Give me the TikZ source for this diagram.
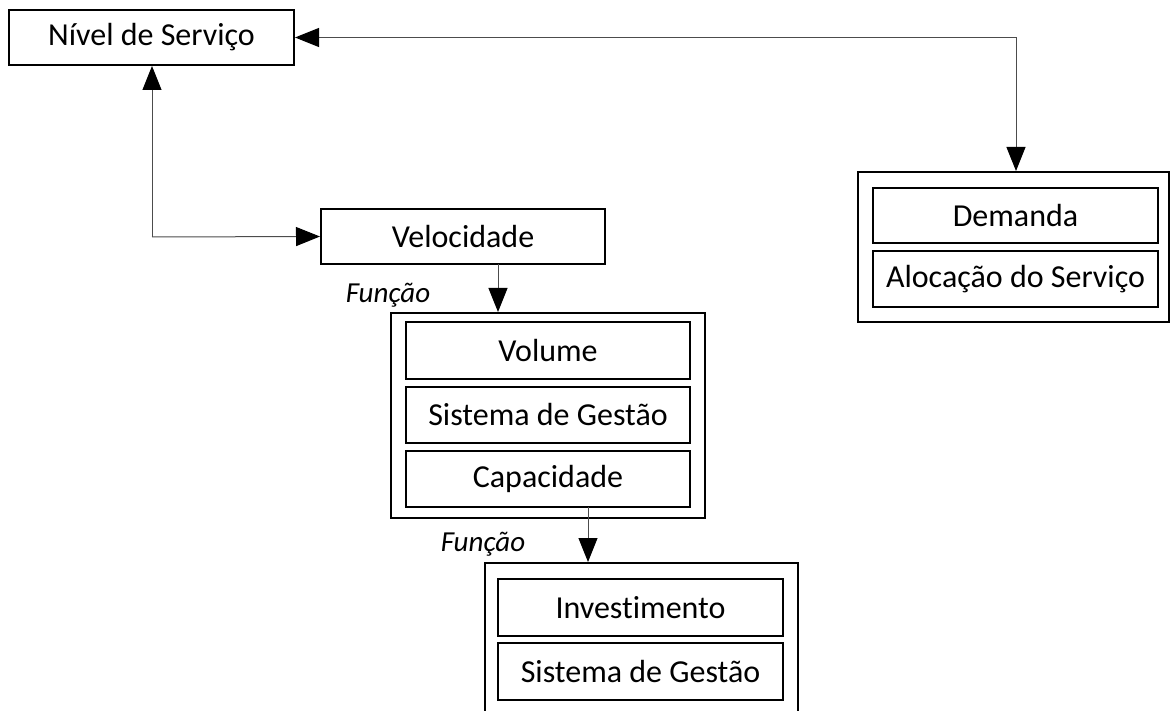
\documentclass[tikz,border=0pt]{standalone}
\usepackage{fontspec}
\setmainfont{Carlito}[Ligatures=NoCommon]
\usetikzlibrary{arrows.meta,calc}
\begin{document}
\begin{tikzpicture}[x=1pt,y=-1pt,
  box/.style={draw=black,line width=2pt,minimum width=#1,inner sep=0pt,font=\fontsize{32}{38}\selectfont},
  conn/.style={draw=black!70,line width=1pt},
  tip/.style={-{Triangle[length=24pt,width=19pt,color=black]}},
  lbl/.style={font=\fontsize{29}{35}\selectfont\itshape,inner sep=0pt}]
\useasboundingbox (0,0) rectangle (1171,711);
% top-left
\node[box=285pt,minimum height=55pt] (niv) at (151.5,37.5) {Nível de Serviço};
\node[box=284pt,minimum height=55pt] (vel) at (463,236.5) {Velocidade};
% middle group
\node[box=314pt,minimum height=205pt] (mid) at (548,415.5) {};
\node[box=284pt,minimum height=57pt] (vol) at (548,350.5) {Volume};
\node[box=284pt,minimum height=56pt] (sg1) at (548,415) {Sistema de Gestão};
\node[box=284pt,minimum height=56pt] (cap) at (548,479) {Capacidade};
% right group
\node[box=311pt,minimum height=150pt] (dem) at (1013.5,247) {};
\node[box=285pt,minimum height=55pt] (dmd) at (1015.5,215.5) {Demanda};
\node[box=285pt,minimum height=56pt] (alo) at (1015.5,279) {Alocação do Serviço};
% bottom group
\node[box=313pt,minimum height=155pt] (bot) at (641.5,640.5) {};
\node[box=285pt,minimum height=57pt] (inv) at (640.5,607.5) {Investimento};
\node[box=285pt,minimum height=57pt] (sg2) at (640.5,671.5) {Sistema de Gestão};
% labels
\node[lbl] (f1) at (388,295) {Função};
\node[lbl] (f2) at (483,544) {Função};
% connectors
\coordinate (c1) at (1016,37.5);
\draw[conn,tip] (c1) -- (c1 |- dem.north);
\draw[conn,tip] (c1) -- (niv.east);
\coordinate (c2) at (152,237);
\draw[conn,tip] (c2) -- (c2 |- niv.south);
\draw[conn,tip] (c2) -- (vel.west);
\coordinate (c3) at (498,264);
\draw[conn,tip] (c3) -- (c3 |- mid.north);
\coordinate (c4) at (588,507);
\draw[conn,tip] (c4) -- (c4 |- bot.north);
\end{tikzpicture}
\end{document}
